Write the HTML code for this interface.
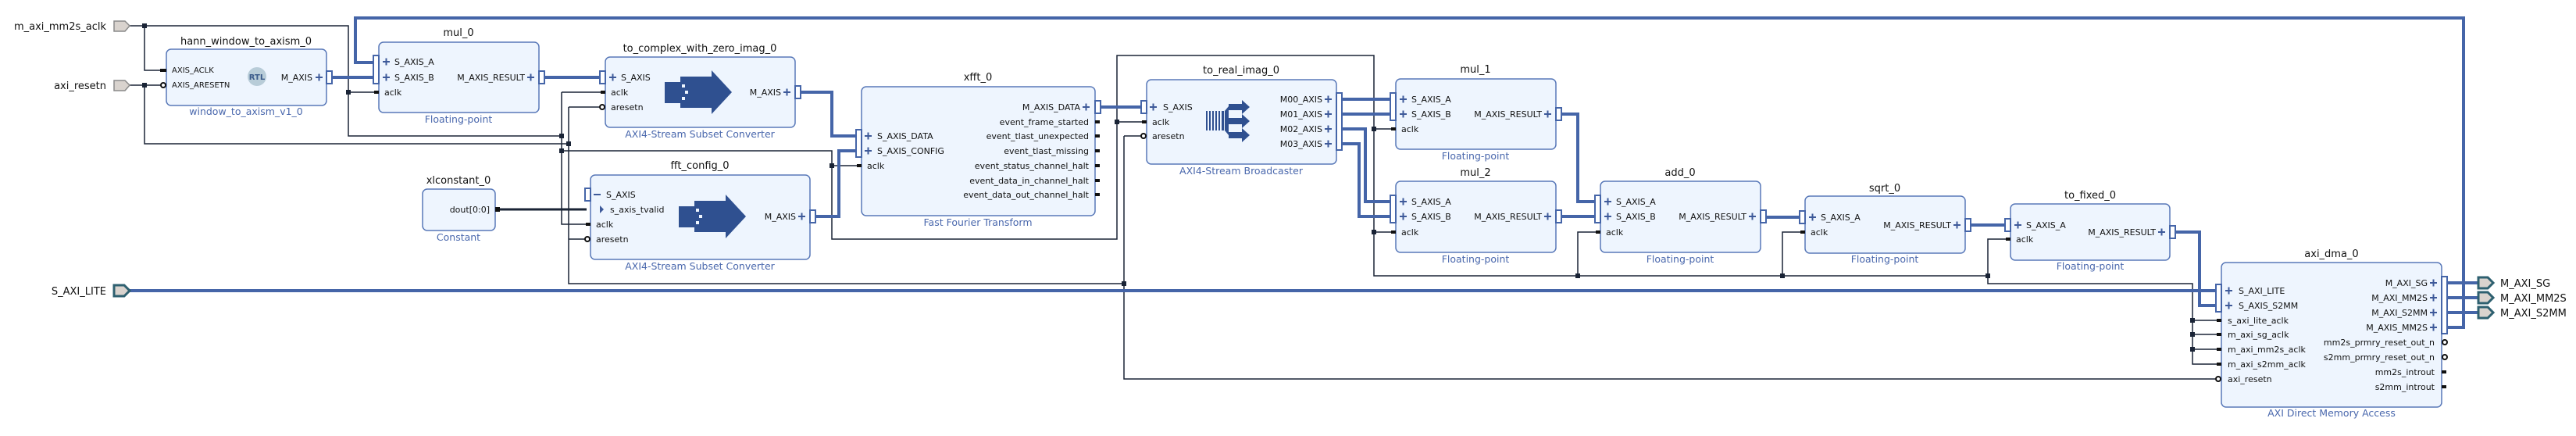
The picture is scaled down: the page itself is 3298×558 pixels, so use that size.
<!DOCTYPE html>
<html><head><meta charset="utf-8"><style>
html,body{margin:0;padding:0;background:#fff}
svg{display:block}
text{font-family:"DejaVu Sans","Liberation Sans",sans-serif;fill:#111}
.t{font-size:13px;text-anchor:middle}
.s{font-size:12.5px;text-anchor:middle;fill:#4a68ad}
.p{font-size:11px}
.r{font-size:11px;text-anchor:end}
.pl{font-size:13px;text-anchor:end}
.blk{fill:#eef5fe;stroke:#5878b8;stroke-width:1.5}
.bus{fill:none;stroke:#4565a8;stroke-width:4}
.w{fill:none;stroke:#1a2436;stroke-width:1.5}
.bp{fill:#fff;stroke:#4565a8;stroke-width:2}
.pls{fill:none;stroke:#3e5a9a;stroke-width:2}
.j{fill:#1a2436}
</style></head><body>
<svg width="3298" height="558" viewBox="0 0 3298 558" xmlns="http://www.w3.org/2000/svg">

<!-- ===== wires (thin) ===== -->
<!-- clock net -->
<polyline class="w" points="165,33 446,33 446,174 719,174"/>
<polyline class="w" points="185,33 185,90 208,90"/>
<polyline class="w" points="446,118 480,118"/>
<polyline class="w" points="719,118 719,287 751,287"/>
<polyline class="w" points="719,118 770,118"/>
<polyline class="w" points="719,193 1065,193 1065,306 1430,306 1430,71 1759,71 1759,353 2545,353 2545,363 2807,363 2807,466 2839,466"/>
<polyline class="w" points="1065,212 1098,212"/>
<polyline class="w" points="1430,156 1463,156"/>
<polyline class="w" points="1759,165 1782,165"/>
<polyline class="w" points="1759,297 1782,297"/>
<polyline class="w" points="2020,353 2020,297 2044,297"/>
<polyline class="w" points="2282,353 2282,297 2306,297"/>
<polyline class="w" points="2545,353 2545,306 2569,306"/>
<polyline class="w" points="2807,410 2839,410"/>
<polyline class="w" points="2807,428 2839,428"/>
<polyline class="w" points="2807,447 2839,447"/>
<!-- reset net -->
<polyline class="w" points="165,109 208,109"/>
<polyline class="w" points="185,109 185,184 728,184"/>
<polyline class="w" points="728,137 728,363 1439,363"/>
<polyline class="w" points="728,137 770,137"/>
<polyline class="w" points="728,306 751,306"/>
<polyline class="w" points="1439,174 1439,485 2839,485"/>
<polyline class="w" points="1439,174 1463,174"/>
<!-- constant -->
<line x1="634" y1="268" x2="751" y2="268" stroke="#1a2436" stroke-width="3"/>

<!-- junction dots -->
<g class="j">
<rect x="182" y="30" width="6" height="6"/><rect x="182" y="106" width="6" height="6"/>
<rect x="443" y="115" width="6" height="6"/><rect x="716" y="171" width="6" height="6"/>
<rect x="725" y="181" width="6" height="6"/><rect x="716" y="190" width="6" height="6"/>
<rect x="1062" y="209" width="6" height="6"/><rect x="1427" y="153" width="6" height="6"/>
<rect x="1436" y="360" width="6" height="6"/><rect x="1756" y="162" width="6" height="6"/>
<rect x="1756" y="294" width="6" height="6"/><rect x="2017" y="350" width="6" height="6"/>
<rect x="2279" y="350" width="6" height="6"/><rect x="2542" y="350" width="6" height="6"/>
<rect x="2804" y="407" width="6" height="6"/><rect x="2804" y="425" width="6" height="6"/>
<rect x="2804" y="444" width="6" height="6"/>
</g>

<!-- ===== buses ===== -->
<polyline class="bus" points="3126,419 3154,419 3154,23 455,23 455,80 478,80"/>
<polyline class="bus" points="425,99 478,99"/>
<polyline class="bus" points="697,99 768,99"/>
<polyline class="bus" points="1025,118 1065,118 1065,174 1096,174"/>
<polyline class="bus" points="1044,277 1074,277 1074,193 1096,193"/>
<polyline class="bus" points="1409,137 1461,137"/>
<polyline class="bus" points="1718,127 1780,127"/>
<polyline class="bus" points="1718,146 1780,146"/>
<polyline class="bus" points="1718,165 1748,165 1748,258 1780,258"/>
<polyline class="bus" points="1718,184 1740,184 1740,277 1780,277"/>
<polyline class="bus" points="1999,146 2020,146 2020,258 2042,258"/>
<polyline class="bus" points="1999,277 2042,277"/>
<polyline class="bus" points="2261,278 2304,278"/>
<polyline class="bus" points="2523,288 2567,288"/>
<polyline class="bus" points="2785,297 2816,297 2816,391 2837,391"/>
<polyline class="bus" points="165,372 2837,372"/>
<polyline class="bus" points="3133,362 3172,362"/>
<polyline class="bus" points="3133,381 3172,381"/>
<polyline class="bus" points="3133,400 3172,400"/>

<!-- ===== external ports ===== -->
<g fill="#d9d3ce" stroke="#8a8a8a" stroke-width="1.5">
<polygon points="146,27 160,27 166,33 160,40 146,40"/>
<polygon points="146,103 160,103 166,109 160,116 146,116"/>
</g>
<polygon points="146,365 159,365 166,372 159,379 146,379" fill="#d9d3ce" stroke="#2e6070" stroke-width="3"/>
<g fill="#d9d3ce" stroke="#2e6070" stroke-width="3">
<polygon points="3173,355 3185,355 3192,362 3185,369 3173,369"/>
<polygon points="3173,374 3185,374 3192,381 3185,388 3173,388"/>
<polygon points="3173,393 3185,393 3192,400 3185,407 3173,407"/>
</g>
<text class="pl" x="136" y="38">m_axi_mm2s_aclk</text>
<text class="pl" x="136" y="114">axi_resetn</text>
<text class="pl" x="136" y="377">S_AXI_LITE</text>
<text x="3201" y="367" style="font-size:13px">M_AXI_SG</text>
<text x="3201" y="386" style="font-size:13px">M_AXI_MM2S</text>
<text x="3201" y="405" style="font-size:13px">M_AXI_S2MM</text>

<!-- ===== blocks ===== -->
<!-- hann -->
<rect class="blk" x="213" y="63" width="205" height="72" rx="6"/>
<text class="t" x="315" y="57">hann_window_to_axism_0</text>
<text class="s" x="315" y="147">window_to_axism_v1_0</text>
<rect x="205" y="88" width="8" height="4" fill="#111"/>
<circle cx="209" cy="109" r="3" fill="#fff" stroke="#111" stroke-width="2"/>
<text x="220" y="93" style="font-size:10px">AXIS_ACLK</text>
<text x="220" y="112" style="font-size:10px">AXIS_ARESETN</text>
<circle cx="329" cy="98" r="12" fill="#b8ccd8"/>
<text x="329" y="102" style="font-size:10px;font-weight:bold;text-anchor:middle;fill:#3a5a8a">RTL</text>
<text class="r" x="400" y="103">M_AXIS</text>
<path class="pls" d="M404,99h9M408.5,94.5v9"/>
<rect class="bp" x="418" y="91" width="7" height="16"/>

<!-- mul_0 -->
<rect class="blk" x="485" y="54" width="205" height="90" rx="6"/>
<text class="t" x="587" y="46">mul_0</text>
<text class="s" x="587" y="157">Floating-point</text>
<rect class="bp" x="478" y="71" width="7" height="36"/>
<path class="pls" d="M490,79h9M494.5,74.5v9M490,99h9M494.5,94.5v9"/>
<text class="p" x="505" y="83">S_AXIS_A</text>
<text class="p" x="505" y="103">S_AXIS_B</text>
<rect x="479" y="116" width="6" height="4" fill="#111"/>
<text class="p" x="492" y="122">aclk</text>
<text class="r" x="672" y="103">M_AXIS_RESULT</text>
<path class="pls" d="M675,99h9M679.5,94.5v9"/>
<rect class="bp" x="690" y="91" width="7" height="16"/>

<!-- to_complex -->
<rect class="blk" x="775" y="73" width="243" height="90" rx="6"/>
<text class="t" x="896" y="66">to_complex_with_zero_imag_0</text>
<text class="s" x="896" y="176">AXI4-Stream Subset Converter</text>
<rect class="bp" x="768" y="91" width="7" height="16"/>
<path class="pls" d="M780,99h9M784.5,94.5v9"/>
<text class="p" x="795" y="103">S_AXIS</text>
<rect x="769" y="116" width="6" height="4" fill="#111"/>
<text class="p" x="782" y="122">aclk</text>
<circle cx="771" cy="137" r="3" fill="#fff" stroke="#111" stroke-width="2"/>
<text class="p" x="782" y="141">aresetn</text>
<g fill="#2f5090"><rect x="851" y="105" width="20" height="27"/><polygon points="871,98 911,98 911,90 937,118 911,146 911,138 871,138"/></g>
<g fill="#eef5fe"><rect x="873" y="108" width="4" height="4"/><rect x="877" y="116" width="4" height="4"/><rect x="873" y="124" width="4" height="4"/></g>
<text class="r" x="1000" y="122">M_AXIS</text>
<path class="pls" d="M1003,118h9M1007.5,113.5v9"/>
<rect class="bp" x="1018" y="110" width="7" height="16"/>

<!-- xlconstant -->
<rect class="blk" x="541" y="242" width="93" height="53" rx="6"/>
<text class="t" x="587" y="235">xlconstant_0</text>
<text class="s" x="587" y="308">Constant</text>
<text class="r" x="627" y="272">dout[0:0]</text>
<rect x="634" y="265" width="6" height="6" fill="#111"/>

<!-- fft_config -->
<rect class="blk" x="756" y="224" width="281" height="108" rx="6"/>
<text class="t" x="896" y="216">fft_config_0</text>
<text class="s" x="896" y="345">AXI4-Stream Subset Converter</text>
<rect class="bp" x="749" y="241" width="7" height="16"/>
<path class="pls" d="M760,249h9"/>
<text class="p" x="776" y="253">S_AXIS</text>
<polygon points="768,263 773,268 768,273" fill="#3e5a9a"/>
<text class="p" x="781" y="272">s_axis_tvalid</text>
<rect x="750" y="285" width="6" height="4" fill="#111"/>
<text class="p" x="763" y="291">aclk</text>
<circle cx="752" cy="306" r="3" fill="#fff" stroke="#111" stroke-width="2"/>
<text class="p" x="763" y="310">aresetn</text>
<g fill="#2f5090"><rect x="869" y="264" width="20" height="27"/><polygon points="889,257 929,257 929,249 955,277 929,305 929,297 889,297"/></g>
<g fill="#eef5fe"><rect x="891" y="267" width="4" height="4"/><rect x="895" y="275" width="4" height="4"/><rect x="891" y="283" width="4" height="4"/></g>
<text class="r" x="1019" y="281">M_AXIS</text>
<path class="pls" d="M1022,277h9M1026.5,272.5v9"/>
<rect class="bp" x="1037" y="269" width="7" height="16"/>

<!-- xfft -->
<rect class="blk" x="1103" y="111" width="299" height="165" rx="6"/>
<text class="t" x="1252" y="103">xfft_0</text>
<text class="s" x="1252" y="289">Fast Fourier Transform</text>
<rect class="bp" x="1096" y="166" width="7" height="35"/>
<path class="pls" d="M1107,174h9M1111.5,169.5v9M1107,193h9M1111.5,188.5v9"/>
<text class="p" x="1123" y="178">S_AXIS_DATA</text>
<text class="p" x="1123" y="197">S_AXIS_CONFIG</text>
<rect x="1097" y="210" width="6" height="4" fill="#111"/>
<text class="p" x="1110" y="216">aclk</text>
<text class="r" x="1383" y="141">M_AXIS_DATA</text>
<path class="pls" d="M1386,137h9M1390.5,132.5v9"/>
<rect class="bp" x="1402" y="129" width="7" height="16"/>
<text class="r" x="1394" y="160">event_frame_started</text>
<text class="r" x="1394" y="178">event_tlast_unexpected</text>
<text class="r" x="1394" y="197">event_tlast_missing</text>
<text class="r" x="1394" y="216">event_status_channel_halt</text>
<text class="r" x="1394" y="235">event_data_in_channel_halt</text>
<text class="r" x="1394" y="253">event_data_out_channel_halt</text>
<g fill="#111"><rect x="1402" y="154" width="6" height="4"/><rect x="1402" y="172" width="6" height="4"/><rect x="1402" y="191" width="6" height="4"/><rect x="1402" y="210" width="6" height="4"/><rect x="1402" y="229" width="6" height="4"/><rect x="1402" y="247" width="6" height="4"/></g>

<!-- to_real_imag -->
<rect class="blk" x="1468" y="102" width="243" height="108" rx="6"/>
<text class="t" x="1589" y="94">to_real_imag_0</text>
<text class="s" x="1589" y="223">AXI4-Stream Broadcaster</text>
<rect class="bp" x="1461" y="129" width="7" height="16"/>
<path class="pls" d="M1472,137h9M1476.5,132.5v9"/>
<text class="p" x="1489" y="141">S_AXIS</text>
<rect x="1462" y="154" width="6" height="4" fill="#111"/>
<text class="p" x="1475" y="160">aclk</text>
<circle cx="1464" cy="174" r="3" fill="#fff" stroke="#111" stroke-width="2"/>
<text class="p" x="1475" y="178">aresetn</text>
<g fill="#2f5090">
<rect x="1544" y="142" width="2" height="25"/><rect x="1548" y="142" width="2" height="25"/><rect x="1552" y="142" width="2" height="25"/><rect x="1556" y="142" width="2" height="25"/><rect x="1560" y="142" width="2" height="25"/><rect x="1564" y="142" width="3" height="25"/>
<polygon points="1568,142 1573,136 1573,173 1568,167"/>
<polygon points="1573,133 1590,133 1590,128 1600,137 1590,146 1590,141 1573,141"/>
<polygon points="1573,151 1590,151 1590,146 1600,155 1590,164 1590,159 1573,159"/>
<polygon points="1573,169 1590,169 1590,164 1600,173 1590,182 1590,177 1573,177"/>
</g>
<text class="r" x="1693" y="131">M00_AXIS</text>
<text class="r" x="1693" y="150">M01_AXIS</text>
<text class="r" x="1693" y="169">M02_AXIS</text>
<text class="r" x="1693" y="188">M03_AXIS</text>
<path class="pls" d="M1696,127h9M1700.5,122.5v9M1696,146h9M1700.5,141.5v9M1696,165h9M1700.5,160.5v9M1696,184h9M1700.5,179.5v9"/>
<rect class="bp" x="1711" y="119" width="7" height="73"/>

<!-- mul_1 -->
<rect class="blk" x="1787" y="101" width="205" height="90" rx="6"/>
<text class="t" x="1889" y="93">mul_1</text>
<text class="s" x="1889" y="204">Floating-point</text>
<rect class="bp" x="1780" y="119" width="7" height="35"/>
<path class="pls" d="M1792,127h9M1796.5,122.5v9M1792,146h9M1796.5,141.5v9"/>
<text class="p" x="1807" y="131">S_AXIS_A</text>
<text class="p" x="1807" y="150">S_AXIS_B</text>
<rect x="1781" y="163" width="6" height="4" fill="#111"/>
<text class="p" x="1794" y="169">aclk</text>
<text class="r" x="1974" y="150">M_AXIS_RESULT</text>
<path class="pls" d="M1977,146h9M1981.5,141.5v9"/>
<rect class="bp" x="1992" y="138" width="7" height="16"/>

<!-- mul_2 -->
<rect class="blk" x="1787" y="232" width="205" height="91" rx="6"/>
<text class="t" x="1889" y="225">mul_2</text>
<text class="s" x="1889" y="336">Floating-point</text>
<rect class="bp" x="1780" y="250" width="7" height="35"/>
<path class="pls" d="M1792,258h9M1796.5,253.5v9M1792,277h9M1796.5,272.5v9"/>
<text class="p" x="1807" y="262">S_AXIS_A</text>
<text class="p" x="1807" y="281">S_AXIS_B</text>
<rect x="1781" y="295" width="6" height="4" fill="#111"/>
<text class="p" x="1794" y="301">aclk</text>
<text class="r" x="1974" y="281">M_AXIS_RESULT</text>
<path class="pls" d="M1977,277h9M1981.5,272.5v9"/>
<rect class="bp" x="1992" y="269" width="7" height="16"/>

<!-- add_0 -->
<rect class="blk" x="2049" y="232" width="205" height="91" rx="6"/>
<text class="t" x="2151" y="225">add_0</text>
<text class="s" x="2151" y="336">Floating-point</text>
<rect class="bp" x="2042" y="250" width="7" height="35"/>
<path class="pls" d="M2054,258h9M2058.5,253.5v9M2054,277h9M2058.5,272.5v9"/>
<text class="p" x="2069" y="262">S_AXIS_A</text>
<text class="p" x="2069" y="281">S_AXIS_B</text>
<rect x="2043" y="295" width="6" height="4" fill="#111"/>
<text class="p" x="2056" y="301">aclk</text>
<text class="r" x="2236" y="281">M_AXIS_RESULT</text>
<path class="pls" d="M2239,277h9M2243.5,272.5v9"/>
<rect class="bp" x="2254" y="269" width="7" height="16"/>

<!-- sqrt_0 -->
<rect class="blk" x="2311" y="251" width="205" height="73" rx="6"/>
<text class="t" x="2413" y="245">sqrt_0</text>
<text class="s" x="2413" y="336">Floating-point</text>
<rect class="bp" x="2304" y="270" width="7" height="16"/>
<path class="pls" d="M2316,278h9M2320.5,273.5v9"/>
<text class="p" x="2331" y="282">S_AXIS_A</text>
<rect x="2305" y="295" width="6" height="4" fill="#111"/>
<text class="p" x="2318" y="301">aclk</text>
<text class="r" x="2498" y="292">M_AXIS_RESULT</text>
<path class="pls" d="M2501,288h9M2505.5,283.5v9"/>
<rect class="bp" x="2516" y="280" width="7" height="16"/>

<!-- to_fixed_0 -->
<rect class="blk" x="2574" y="261" width="204" height="72" rx="6"/>
<text class="t" x="2676" y="254">to_fixed_0</text>
<text class="s" x="2676" y="345">Floating-point</text>
<rect class="bp" x="2567" y="280" width="7" height="16"/>
<path class="pls" d="M2579,288h9M2583.5,283.5v9"/>
<text class="p" x="2594" y="292">S_AXIS_A</text>
<rect x="2568" y="304" width="6" height="4" fill="#111"/>
<text class="p" x="2581" y="310">aclk</text>
<text class="r" x="2760" y="301">M_AXIS_RESULT</text>
<path class="pls" d="M2763,297h9M2767.5,292.5v9"/>
<rect class="bp" x="2778" y="289" width="7" height="16"/>

<!-- axi_dma_0 -->
<rect class="blk" x="2844" y="336" width="282" height="185" rx="6"/>
<text class="t" x="2985" y="329">axi_dma_0</text>
<text class="s" x="2985" y="533">AXI Direct Memory Access</text>
<rect class="bp" x="2837" y="364" width="7" height="35"/>
<path class="pls" d="M2849,372h9M2853.5,367.5v9M2849,391h9M2853.5,386.5v9"/>
<text class="p" x="2866" y="376">S_AXI_LITE</text>
<text class="p" x="2866" y="395">S_AXIS_S2MM</text>
<g fill="#111"><rect x="2838" y="408" width="6" height="4"/><rect x="2838" y="426" width="6" height="4"/><rect x="2838" y="445" width="6" height="4"/><rect x="2838" y="464" width="6" height="4"/></g>
<text class="p" x="2852" y="414">s_axi_lite_aclk</text>
<text class="p" x="2852" y="432">m_axi_sg_aclk</text>
<text class="p" x="2852" y="451">m_axi_mm2s_aclk</text>
<text class="p" x="2852" y="470">m_axi_s2mm_aclk</text>
<circle cx="2840" cy="485" r="3" fill="#fff" stroke="#111" stroke-width="2"/>
<text class="p" x="2852" y="489">axi_resetn</text>
<text class="r" x="3108" y="366">M_AXI_SG</text>
<text class="r" x="3108" y="385">M_AXI_MM2S</text>
<text class="r" x="3108" y="404">M_AXI_S2MM</text>
<text class="r" x="3108" y="423">M_AXIS_MM2S</text>
<path class="pls" d="M3111,362h9M3115.5,357.5v9M3111,381h9M3115.5,376.5v9M3111,400h9M3115.5,395.5v9M3111,419h9M3115.5,414.5v9"/>
<rect class="bp" x="3126" y="354" width="7" height="73"/>
<text class="r" x="3117" y="442">mm2s_prmry_reset_out_n</text>
<text class="r" x="3117" y="461">s2mm_prmry_reset_out_n</text>
<text class="r" x="3117" y="480">mm2s_introut</text>
<text class="r" x="3117" y="499">s2mm_introut</text>
<circle cx="3130" cy="438" r="3" fill="#fff" stroke="#111" stroke-width="2"/>
<circle cx="3130" cy="457" r="3" fill="#fff" stroke="#111" stroke-width="2"/>
<g fill="#111"><rect x="3126" y="474" width="6" height="4"/><rect x="3126" y="493" width="6" height="4"/></g>
</svg>
</body></html>
